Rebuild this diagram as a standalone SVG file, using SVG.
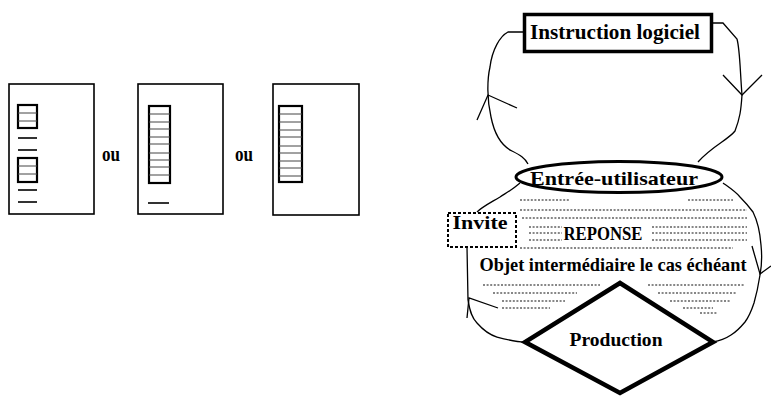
<svg xmlns="http://www.w3.org/2000/svg" width="771" height="397" viewBox="0 0 771 397">
<style>
.t{font-family:"Liberation Serif","Times New Roman",serif;font-weight:bold;fill:#000;text-anchor:middle}
.panel{fill:#fff;stroke:#000;stroke-width:1.6}
.ibox{fill:#fff;stroke:#000;stroke-width:2.2}
.row{stroke:#444;stroke-width:1}
.ln{stroke:#000;stroke-width:1.6}
.dots{stroke:#111;stroke-width:1.1;stroke-dasharray:2 1.6}
.conn{fill:none;stroke:#000;stroke-width:1.3}
</style>
<rect width="771" height="397" fill="#fff"/>

<g id="panel1">
<rect class="panel" x="9" y="84" width="85" height="130"/>
<rect class="ibox" x="18" y="105" width="19" height="23"/>
<line class="row" x1="18" y1="113" x2="37" y2="113"/>
<line class="row" x1="18" y1="121" x2="37" y2="121"/>
<line class="ln" x1="18" y1="138" x2="37" y2="138"/>
<line class="ln" x1="18" y1="150" x2="37" y2="150"/>
<rect class="ibox" x="18" y="158" width="19" height="24"/>
<line class="row" x1="18" y1="166" x2="37" y2="166"/>
<line class="row" x1="18" y1="174" x2="37" y2="174"/>
<line class="ln" x1="18" y1="190" x2="37" y2="190"/>
<line class="ln" x1="18" y1="202" x2="37" y2="202"/>
</g>

<g id="ou1"><text class="t" x="111" y="161" font-size="20" textLength="18" lengthAdjust="spacingAndGlyphs">ou</text></g>

<g id="panel2">
<rect class="panel" x="138" y="84" width="85" height="130"/>
<rect class="ibox" x="149" y="106" width="21" height="77"/>
<g class="row">
<line x1="149" y1="114" x2="170" y2="114"/>
<line x1="149" y1="122" x2="170" y2="122"/>
<line x1="149" y1="129" x2="170" y2="129"/>
<line x1="149" y1="137" x2="170" y2="137"/>
<line x1="149" y1="144" x2="170" y2="144"/>
<line x1="149" y1="153" x2="170" y2="153"/>
<line x1="149" y1="160" x2="170" y2="160"/>
<line x1="149" y1="167" x2="170" y2="167"/>
<line x1="149" y1="175" x2="170" y2="175"/>
</g>
<line class="ln" x1="148" y1="203" x2="169" y2="203"/>
</g>

<g id="ou2"><text class="t" x="244" y="161" font-size="20" textLength="18" lengthAdjust="spacingAndGlyphs">ou</text></g>

<g id="panel3">
<rect class="panel" x="273" y="84" width="86" height="131"/>
<rect class="ibox" x="279" y="106" width="23" height="76"/>
<g class="row">
<line x1="279" y1="114" x2="302" y2="114"/>
<line x1="279" y1="122" x2="302" y2="122"/>
<line x1="279" y1="130" x2="302" y2="130"/>
<line x1="279" y1="137" x2="302" y2="137"/>
<line x1="279" y1="146" x2="302" y2="146"/>
<line x1="279" y1="153" x2="302" y2="153"/>
<line x1="279" y1="161" x2="302" y2="161"/>
<line x1="279" y1="168" x2="302" y2="168"/>
<line x1="279" y1="176" x2="302" y2="176"/>
</g>
</g>

<g id="connectors">
<path class="conn" d="M523,32 L508,32 C500,36 492,50 490,67 C487,80 487,100 491,117 C494,132 500,145 512,151 C520,155 525,158 528,164"/>
<path class="conn" d="M477,120 L488,95 L517,108"/>
<path class="conn" d="M713,23 L723,23 L737,39 C740,50 740,70 742,95 C741,110 740,118 735,131 C728,140 712,146 698,162"/>
<path class="conn" d="M723,75 L742,95 L762,75"/>
<path class="conn" d="M520,183 C512,190 506,193 500,197 C490,203 482,207 477,212"/>
<path class="conn" d="M467,247 L468,300 C470,312 472,318 477,323 C484,331 490,335 497,337 C508,340 516,342 525,342"/>
<path class="conn" d="M467,318 L469,298 L498,308"/>
<path class="conn" d="M723,183 C730,188 736,192 740,197 C746,203 750,208 753,212 C758,222 760,232 761,245 C762,255 762,265 760,275 C758,288 756,296 754,303 C751,312 748,318 745,322 C740,328 736,332 731,335 C725,339 719,341 713,342"/>
<path class="conn" d="M752,246 L760,274 L771,266"/>
</g>

<g id="instruction">
<rect x="524.5" y="14.5" width="187" height="37" fill="#fff" stroke="#000" stroke-width="3.5"/>
<text class="t" x="615" y="39" font-size="20" textLength="170" lengthAdjust="spacingAndGlyphs">Instruction logiciel</text>
</g>

<g id="entree">
<ellipse cx="619" cy="177" rx="103" ry="15.5" fill="#fff" stroke="#000" stroke-width="3"/>
<text class="t" x="614" y="185" font-size="19" textLength="168" lengthAdjust="spacingAndGlyphs">Entrée-utilisateur</text>
</g>

<g id="reponse-zone">
<g class="dots">
<line x1="520" y1="200" x2="570" y2="200"/>
<line x1="688" y1="200" x2="733" y2="200"/>
<line x1="520" y1="210" x2="747" y2="210"/>
<line x1="522" y1="218" x2="747" y2="218"/>
<line x1="529" y1="227" x2="562" y2="227"/>
<line x1="652" y1="227" x2="747" y2="227"/>
<line x1="529" y1="233" x2="562" y2="233"/>
<line x1="652" y1="233" x2="747" y2="233"/>
<line x1="529" y1="240" x2="562" y2="240"/>
<line x1="652" y1="240" x2="747" y2="240"/>
<line x1="520" y1="248" x2="733" y2="248"/>
<line x1="483" y1="285" x2="600" y2="285"/>
<line x1="648" y1="285" x2="745" y2="285"/>
<line x1="493" y1="293" x2="577" y2="293"/>
<line x1="658" y1="293" x2="737" y2="293"/>
<line x1="502" y1="301" x2="565" y2="301"/>
<line x1="670" y1="301" x2="730" y2="301"/>
<line x1="502" y1="308" x2="550" y2="308"/>
<line x1="683" y1="308" x2="713" y2="308"/>
<line x1="700" y1="313" x2="717" y2="313"/>
</g>
<text class="t" x="603" y="240" font-size="18" textLength="79" lengthAdjust="spacingAndGlyphs">REPONSE</text>
<text class="t" x="613" y="271" font-size="19" textLength="267" lengthAdjust="spacingAndGlyphs">Objet intermédiaire le cas échéant</text>
</g>

<g id="invite">
<rect x="448" y="213" width="68" height="34" fill="#fff" stroke="#000" stroke-width="2" stroke-dasharray="3 2"/>
<text class="t" x="480" y="229" font-size="18" textLength="55" lengthAdjust="spacingAndGlyphs">Invite</text>
</g>

<g id="production">
<polygon points="620,283 713,342 620,393 525,342" fill="#fff" stroke="#000" stroke-width="4.5" stroke-linejoin="miter"/>
<text class="t" x="616" y="346" font-size="19" textLength="93" lengthAdjust="spacingAndGlyphs">Production</text>
</g>
</svg>
